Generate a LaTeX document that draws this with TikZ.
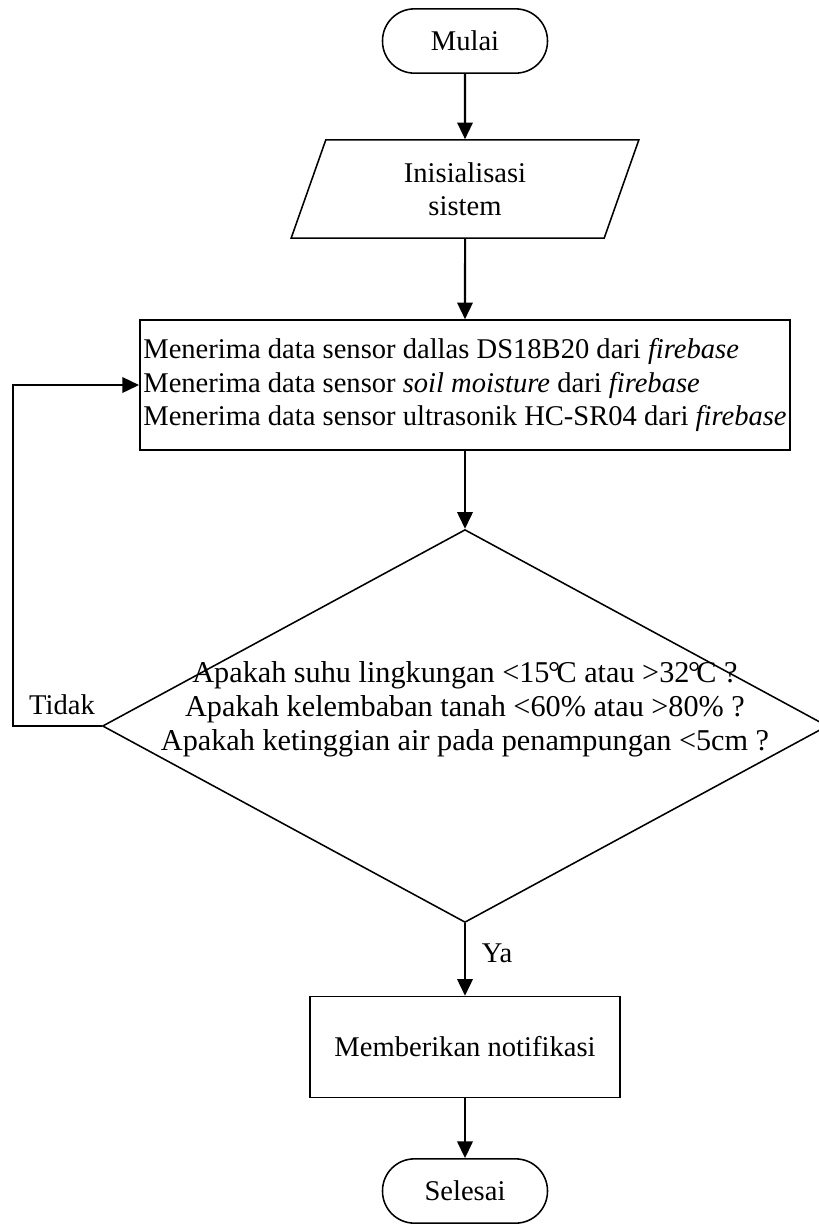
\documentclass[tikz,border=0pt]{standalone}
\usepackage{fontspec}
\setmainfont{Liberation Serif}
\usetikzlibrary{shapes.geometric,arrows.meta}

\begin{document}
\begin{tikzpicture}[x=0.42pt, y=-0.42pt,
  txt/.style={font=\fontsize{12}{13.9}\selectfont},
  terminal/.style={txt, rectangle, rounded corners=13.4pt, draw, line width=0.65pt, minimum width=69.3pt, minimum height=27pt},
  io/.style={txt, trapezium, trapezium left angle=63.4, trapezium right angle=116.6, trapezium stretches body, draw, line width=0.65pt, minimum width=146pt, minimum height=41.2pt, align=center},
  process/.style={txt, rectangle, draw, line width=0.65pt},
  decision/.style={diamond, draw, line width=0.65pt, minimum width=304.5pt, minimum height=165pt, inner sep=0pt},
  arrow/.style={-{Triangle[length=7pt, width=6.5pt]}, line width=0.85pt},
]
\useasboundingbox (0,0) rectangle (819,1225);
\node[terminal] (mulai) at (465,41) {Mulai};
\node[io] (init) at (465,189) {Inisialisasi\\sistem};
\node[process, align=left, minimum width=270.5pt, minimum height=54.6pt, inner sep=1.5pt] (data) at (465,385) {Menerima data sensor dallas DS18B20 dari \textit{firebase}\\Menerima data sensor \textit{soil moisture} dari \textit{firebase}\\Menerima data sensor ultrasonik HC-SR04 dari \textit{firebase}};
\node[decision] (cek) at (465,726) {};
\node[font=\fontsize{12.7}{14.3}\selectfont, align=center] (cektxt) at (465,709) {Apakah suhu lingkungan <15\kern-0.05em\textdegree\kern-0.12emC atau >32\kern-0.05em\textdegree\kern-0.12emC ?\\Apakah kelembaban tanah <60\% atau >80\% ?\\Apakah ketinggian air pada penampungan <5cm ?};
\node[process, minimum width=130pt, minimum height=42.4pt] (notif) at (465,1047) {Memberikan notifikasi};
\node[terminal] (selesai) at (465,1191) {Selesai};
\coordinate (kiri) at (13,726);
\node[txt] (tidak) at (62,705) {Tidak};
\node[txt] (ya) at (497,953) {Ya};

\draw[arrow] (mulai) -- (init);
\draw[arrow] (init) -- (data);
\draw[arrow] (data) -- (cek);
\draw[arrow] (cek) -- (notif);
\draw[arrow] (notif) -- (selesai);
\draw[arrow] (cek.west) -- (kiri) |- (data.west);
\end{tikzpicture}
\end{document}
